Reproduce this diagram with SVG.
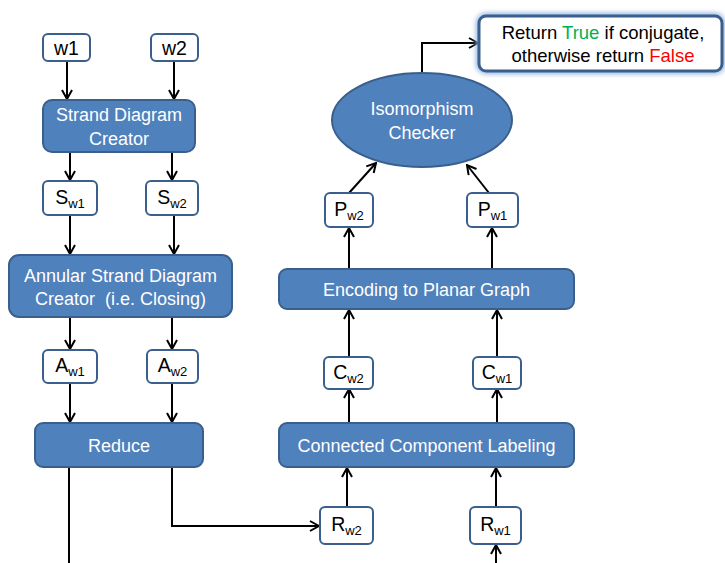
<svg xmlns="http://www.w3.org/2000/svg" width="725" height="563" viewBox="0 0 725 563">
<defs>
<style>
.proc{fill:#4F81BD;stroke:#3A5F8C;stroke-width:2}
.box{fill:#FFFFFF;stroke:#3A5F8C;stroke-width:2}
.wt{font-family:"Liberation Sans",Arial,sans-serif;font-size:18px;fill:#FFFFFF;text-anchor:middle}
.bt{font-family:"Liberation Sans",Arial,sans-serif;font-size:19.5px;fill:#000000;text-anchor:middle}
.sub{font-size:13px}
.rt{font-family:"Liberation Sans",Arial,sans-serif;font-size:18.5px;fill:#000000;text-anchor:middle}
.c{fill:none;stroke:#000000;stroke-width:2}
</style>
<marker id="ah" viewBox="0 0 12 12" refX="11" refY="6" markerWidth="12" markerHeight="12" markerUnits="userSpaceOnUse" orient="auto">
<polyline points="2,1 11,6 2,11" fill="none" stroke="#000" stroke-width="2"/>
</marker>
<filter id="glow" x="-10%" y="-30%" width="120%" height="160%">
<feGaussianBlur stdDeviation="2.5"/>
</filter>
</defs>

<g id="connectors">
<path class="c" d="M67,61 V99" marker-end="url(#ah)"/>
<path class="c" d="M174,61 V99" marker-end="url(#ah)"/>
<path class="c" d="M70,152 V180" marker-end="url(#ah)"/>
<path class="c" d="M172,152 V180" marker-end="url(#ah)"/>
<path class="c" d="M70,215 V254" marker-end="url(#ah)"/>
<path class="c" d="M174,215 V254" marker-end="url(#ah)"/>
<path class="c" d="M70,317 V349" marker-end="url(#ah)"/>
<path class="c" d="M172,317 V349" marker-end="url(#ah)"/>
<path class="c" d="M70,383 V422" marker-end="url(#ah)"/>
<path class="c" d="M172,383 V422" marker-end="url(#ah)"/>
<path class="c" d="M69,467 V563"/>
<path class="c" d="M172,467 V526 H319" marker-end="url(#ah)"/>
<path class="c" d="M347,507 V468" marker-end="url(#ah)"/>
<path class="c" d="M496,563 V545" marker-end="url(#ah)"/>
<path class="c" d="M496,507 V468" marker-end="url(#ah)"/>
<path class="c" d="M349,423 V389" marker-end="url(#ah)"/>
<path class="c" d="M497,423 V389" marker-end="url(#ah)"/>
<path class="c" d="M349,357 V310" marker-end="url(#ah)"/>
<path class="c" d="M497,357 V310" marker-end="url(#ah)"/>
<path class="c" d="M349,269 V228" marker-end="url(#ah)"/>
<path class="c" d="M492,269 V228" marker-end="url(#ah)"/>
<path class="c" d="M349,193 L376,163" marker-end="url(#ah)"/>
<path class="c" d="M489,193 L467,165" marker-end="url(#ah)"/>
<path class="c" d="M422,73 V43 H478" marker-end="url(#ah)"/>
</g>

<g id="w1"><rect class="box" x="43" y="34" width="47" height="27" rx="5"/><text class="bt" x="66.5" y="54.5">w1</text></g>
<g id="w2"><rect class="box" x="151" y="34" width="47" height="27" rx="5"/><text class="bt" x="174.5" y="54.5">w2</text></g>

<g id="strand-creator"><rect class="proc" x="43" y="100" width="152" height="52" rx="9"/>
<text class="wt" x="119" y="121">Strand Diagram</text><text class="wt" x="119" y="145">Creator</text></g>

<g id="sw1"><rect class="box" x="43" y="181" width="54" height="34" rx="5"/><text class="bt" x="70" y="204">S<tspan class="sub" dy="4">w1</tspan></text></g>
<g id="sw2"><rect class="box" x="146" y="181" width="52" height="34" rx="5"/><text class="bt" x="172" y="204">S<tspan class="sub" dy="4">w2</tspan></text></g>

<g id="annular-creator"><rect class="proc" x="9" y="255" width="223" height="62" rx="10"/>
<text class="wt" x="120.5" y="282">Annular Strand Diagram</text><text class="wt" x="120.5" y="305" xml:space="preserve">Creator  (i.e. Closing)</text></g>

<g id="aw1"><rect class="box" x="43" y="350" width="54" height="33" rx="5"/><text class="bt" x="70" y="372">A<tspan class="sub" dy="4">w1</tspan></text></g>
<g id="aw2"><rect class="box" x="147" y="350" width="51" height="33" rx="5"/><text class="bt" x="172.5" y="372">A<tspan class="sub" dy="4">w2</tspan></text></g>

<g id="reduce"><rect class="proc" x="35" y="423" width="168" height="44" rx="8"/><text class="wt" x="119" y="452">Reduce</text></g>

<g id="rw2"><rect class="box" x="320" y="507" width="53" height="37" rx="5"/><text class="bt" x="346.5" y="531">R<tspan class="sub" dy="4">w2</tspan></text></g>
<g id="rw1"><rect class="box" x="470" y="507" width="51" height="37" rx="5"/><text class="bt" x="495.5" y="531">R<tspan class="sub" dy="4">w1</tspan></text></g>

<g id="ccl"><rect class="proc" x="279" y="423" width="295" height="44" rx="8"/><text class="wt" x="426.5" y="452">Connected Component Labeling</text></g>

<g id="cw2"><rect class="box" x="324" y="357" width="49" height="32" rx="5"/><text class="bt" x="348.5" y="379">C<tspan class="sub" dy="4">w2</tspan></text></g>
<g id="cw1"><rect class="box" x="473" y="357" width="48" height="32" rx="5"/><text class="bt" x="497" y="379">C<tspan class="sub" dy="4">w1</tspan></text></g>

<g id="encoding"><rect class="proc" x="279" y="269" width="295" height="40" rx="8"/><text class="wt" x="426.5" y="296">Encoding to Planar Graph</text></g>

<g id="pw2"><rect class="box" x="325" y="193" width="48" height="34" rx="5"/><text class="bt" x="349" y="216">P<tspan class="sub" dy="4">w2</tspan></text></g>
<g id="pw1"><rect class="box" x="467" y="193" width="51" height="34" rx="5"/><text class="bt" x="492.5" y="216">P<tspan class="sub" dy="4">w1</tspan></text></g>

<g id="iso"><ellipse class="proc" cx="422" cy="120" rx="90" ry="47"/>
<text class="wt" x="422" y="115">Isomorphism</text><text class="wt" x="422" y="139">Checker</text></g>

<g id="result">
<rect x="479" y="16" width="243" height="55" rx="7" fill="none" stroke="#8DB3E2" stroke-width="6" filter="url(#glow)"/>
<rect x="479" y="16" width="243" height="55" rx="7" fill="#FFFFFF" stroke="#3A5F8C" stroke-width="3"/>
<text class="rt" x="603" y="39">Return <tspan fill="#00B050">True</tspan> if conjugate,</text>
<text class="rt" x="603" y="62">otherwise return <tspan fill="#FF0000">False</tspan></text>
</g>
</svg>
